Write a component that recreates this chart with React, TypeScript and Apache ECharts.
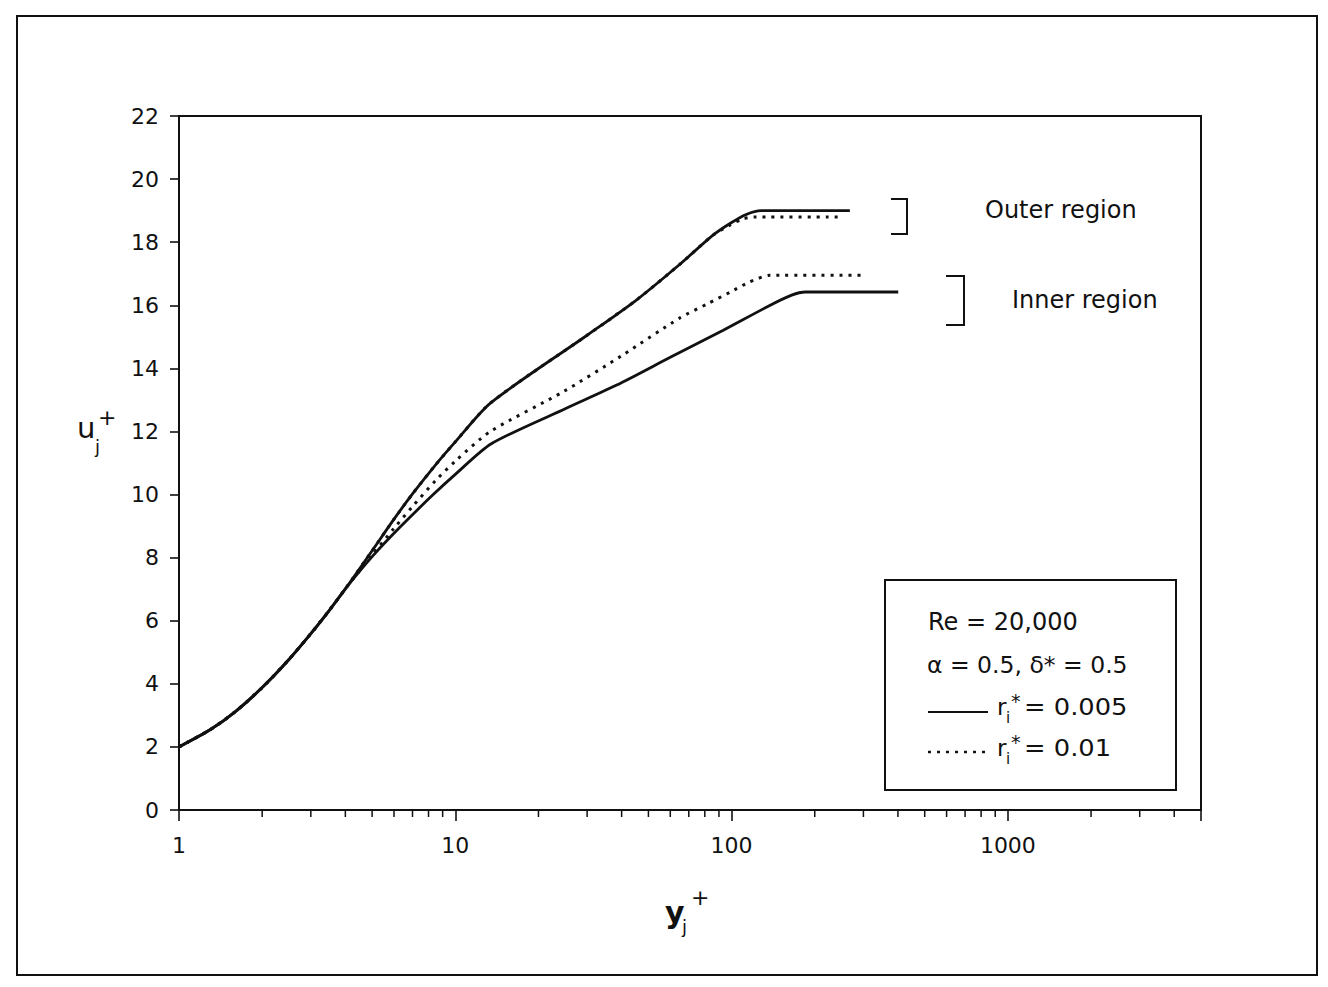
import React, { useEffect, useRef } from "react";
import * as echarts from "echarts";

// Shared near-wall part of every profile (y+ , u+)
const commonY = [1, 1.3, 1.6, 2.0, 2.5, 3.0, 3.5, 4.0];
const commonU = [2.0, 2.55, 3.12, 3.88, 4.77, 5.59, 6.33, 7.01];

// r_i* = 0.005, outer region
const outerSolidY = [5, 6, 7, 8.5, 10, 13.4, 30, 45, 65, 85, 99, 113, 128, 268];
const outerSolidU = [8.22, 9.22, 10.02, 10.95, 11.67, 12.9, 15.05, 16.15, 17.3, 18.2, 18.6, 18.88, 19.0, 19.0];

// r_i* = 0.01, outer region
const outerDottedY = [5, 6, 7, 8.5, 10, 13.4, 30, 45, 65, 85, 99, 110, 122, 243];
const outerDottedU = [8.22, 9.22, 10.02, 10.95, 11.67, 12.9, 15.05, 16.15, 17.3, 18.2, 18.55, 18.74, 18.8, 18.8];

// r_i* = 0.01, inner region
const innerDottedY = [5, 6, 7, 8.5, 10, 13.4, 24.6, 40, 65, 82, 99, 115, 138, 304];
const innerDottedU = [8.08, 8.93, 9.62, 10.45, 11.06, 12.0, 13.26, 14.4, 15.6, 16.05, 16.42, 16.72, 16.95, 16.95];

// r_i* = 0.005, inner region
const innerSolidY = [5, 6.3, 8.3, 10, 13.5, 25, 38.4, 60, 93.3, 135.8, 165, 185, 401];
const innerSolidU = [8.03, 8.96, 9.99, 10.64, 11.61, 12.72, 13.47, 14.35, 15.21, 15.97, 16.32, 16.42, 16.42];

// Minor tick positions on the logarithmic y+ axis
const minorTicks = [2, 3, 4, 5, 6, 7, 8, 9, 20, 30, 40, 50, 60, 70, 80, 90, 200, 300, 400, 500, 600, 700, 800, 900, 2000, 3000, 4000];

const X_MIN = 1;
const X_MAX = 5000;
const Y_MIN = 0;
const Y_MAX = 22;
const Y_STEP = 2;

const FONT = "DejaVu Sans";
const INK = "#111";

const pairs = (xs: number[], ys: number[]) => xs.map((x, i) => [x, ys[i]]);
const profile = (xs: number[], ys: number[]) => [...pairs(commonY, commonU), ...pairs(xs, ys)];

export default function App() {
  const ref = useRef<HTMLDivElement>(null);

  useEffect(() => {
    if (!ref.current) return;
    const chart = echarts.init(ref.current, undefined, { renderer: "svg" });

    const lineSeries = (name: string, data: number[][], dotted: boolean) => ({
      name,
      type: "line",
      data,
      showSymbol: false,
      smooth: 0.25,
      lineStyle: {
        color: INK,
        width: dotted ? 3 : 2.8,
        type: dotted ? [3, 6] : "solid",
        cap: "butt",
      },
      z: dotted ? 3 : 4,
    });

    const txt = (x: number, y: number, text: string, size: number, extra: any = {}) => ({
      type: "text",
      x,
      y,
      scaleX: extra.scaleX || 1,
      style: {
        text,
        fill: INK,
        font: `${extra.weight || "normal"} ${size}px "${FONT}"`,
        align: extra.align || "left",
        verticalAlign: "middle",
      },
    });

    // r_i* label: r, subscript i, raised asterisk, then the value
    const rLabel = (x: number, y: number, value: string) => [
      txt(x, y, "r", 23),
      txt(x + 9, y + 11, "i", 15),
      txt(x + 14, y - 6, "*", 19),
      txt(x + 27, y, `= ${value}`, 23, { scaleX: 1.12 }),
    ];

    chart.setOption({
      animation: false,
      backgroundColor: "#fff",
      grid: {
        left: 179,
        top: 116,
        width: 1022,
        height: 694,
        show: true,
        borderColor: INK,
        borderWidth: 2,
        backgroundColor: "transparent",
      },
      xAxis: {
        type: "log",
        logBase: 10,
        min: X_MIN,
        max: X_MAX,
        axisLine: { show: true, lineStyle: { color: INK, width: 2 } },
        axisTick: { show: true, inside: false, length: 11, lineStyle: { color: INK, width: 1.6 } },
        axisLabel: {
          color: INK,
          fontFamily: FONT,
          fontSize: 22,
          margin: 24,
          formatter: (v: number) => {
            const p = Math.log10(v);
            return Math.abs(p - Math.round(p)) < 1e-9 ? String(Math.round(v)) : "";
          },
        },
        splitLine: { show: false },
      },
      yAxis: {
        type: "value",
        min: Y_MIN,
        max: Y_MAX,
        interval: Y_STEP,
        axisLine: { show: true, lineStyle: { color: INK, width: 2 } },
        axisTick: { show: true, inside: false, length: 9, lineStyle: { color: INK, width: 1.6 } },
        axisLabel: { color: INK, fontFamily: FONT, fontSize: 22, margin: 20 },
        splitLine: { show: false },
      },
      series: [
        lineSeries("outer r=0.01", profile(outerDottedY, outerDottedU), true),
        lineSeries("inner r=0.01", profile(innerDottedY, innerDottedU), true),
        lineSeries("outer r=0.005", profile(outerSolidY, outerSolidU), false),
        lineSeries("inner r=0.005", profile(innerSolidY, innerSolidU), false),
        {
          type: "custom",
          clip: false,
          silent: true,
          data: minorTicks.map((v) => [v, Y_MIN]),
          renderItem: (_p: any, api: any) => {
            const pt = api.coord([api.value(0), Y_MIN]);
            return {
              type: "line",
              shape: { x1: pt[0], y1: pt[1], x2: pt[0], y2: pt[1] + 7 },
              style: { stroke: INK, lineWidth: 1.5 },
            };
          },
          z: 5,
        },
      ],
      graphic: [
        // outer frame
        {
          type: "rect",
          shape: { x: 17, y: 16, width: 1300, height: 959 },
          style: { fill: "none", stroke: INK, lineWidth: 2 },
          silent: true,
        },
        // axis titles
        txt(77, 428, "u", 29),
        txt(95, 446, "j", 18),
        txt(98, 417, "+", 22),
        txt(665, 912, "y", 30, { weight: "bold" }),
        txt(682, 926, "j", 18),
        txt(691, 897, "+", 22),
        // region brackets and captions
        {
          type: "polyline",
          shape: { points: [[891, 199], [907, 199], [907, 234], [891, 234]] },
          style: { fill: "none", stroke: INK, lineWidth: 2 },
        },
        txt(985, 210, "Outer region", 24),
        {
          type: "polyline",
          shape: { points: [[946, 276], [964, 276], [964, 325], [946, 325]] },
          style: { fill: "none", stroke: INK, lineWidth: 2 },
        },
        txt(1012, 300, "Inner region", 24),
        // annotation box
        {
          type: "rect",
          shape: { x: 885, y: 580, width: 291, height: 210 },
          style: { fill: "#fff", stroke: INK, lineWidth: 2 },
          z: 10,
        },
        ...[
          txt(928, 622, "Re = 20,000", 24),
          txt(927, 665, "α = 0.5, δ* = 0.5", 23.5),
          {
            type: "line",
            shape: { x1: 928, y1: 712, x2: 988, y2: 712 },
            style: { stroke: INK, lineWidth: 2.2 },
          },
          ...rLabel(997, 707, "0.005"),
          {
            type: "line",
            shape: { x1: 928, y1: 752, x2: 988, y2: 752 },
            style: { stroke: INK, lineWidth: 2.6, lineDash: [3, 6] },
          },
          ...rLabel(997, 748, "0.01"),
        ].map((e: any) => ({ ...e, z: 11 })),
      ],
    });

    return () => chart.dispose();
  }, []);

  return (
    <div
      ref={ref}
      style={{ position: "fixed", left: 0, top: 0, width: 1328, height: 987, background: "#fff" }}
    />
  );
}
